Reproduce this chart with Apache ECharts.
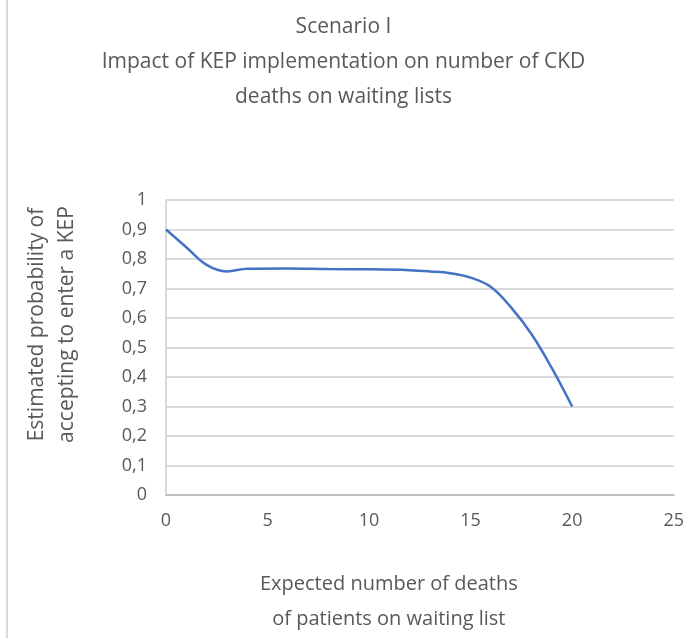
<!DOCTYPE html>
<html>
<head>
<meta charset="utf-8">
<title>Scenario I</title>
<script src="https://cdn.jsdelivr.net/npm/echarts@6/dist/echarts.min.js"></script>
<style>
  html, body { margin: 0; padding: 0; background: #fff; }
  #chart { width: 687px; height: 638px; }
</style>
</head>
<body>
<div id="chart"></div>
<script>
// expected deaths (x) vs estimated probability of accepting to enter a KEP (y)
const deaths = [0, 1, 2, 3, 4, 6, 8, 10, 12, 13, 14, 15, 16, 17, 18, 19, 20]
const probability = [0.9, 0.84, 0.78, 0.758, 0.767, 0.768, 0.766, 0.765, 0.762, 0.758, 0.752, 0.737, 0.705, 0.635, 0.545, 0.43, 0.3]
const xTicks = [0, 25, 5]   // min, max, step
const yTicks = [0, 1, 0.1]

const chart = echarts.init(document.getElementById('chart'))
const grey = '#595959'
const font = 'Open Sans'

const option = {
  animation: false,
  title: {
    text: 'Scenario I\nImpact of KEP implementation on number of CKD\ndeaths on waiting lists',
    left: 'center',
    top: 5,
    textStyle: {
      fontFamily: font,
      fontWeight: 'normal',
      fontSize: 21,
      lineHeight: 35,
      color: grey
    }
  },
  grid: { left: 166, right: 12, top: 200, bottom: 142 },
  xAxis: {
    type: 'value',
    min: xTicks[0],
    max: xTicks[1],
    interval: xTicks[2],
    name: 'Expected number of deaths\nof patients on waiting list',
    nameLocation: 'middle',
    nameGap: 72,
    nameTextStyle: {
      fontFamily: font, fontSize: 20, lineHeight: 35, color: grey,
      padding: [0, 62, 0, 0]
    },
    axisLine: { lineStyle: { color: '#bfbfbf', width: 2 } },
    axisTick: { show: false },
    splitLine: { show: false },
    axisLabel: { fontFamily: font, fontSize: 18, color: grey, margin: 17 }
  },
  yAxis: {
    type: 'value',
    min: yTicks[0],
    max: yTicks[1],
    interval: yTicks[2],
    name: 'Estimated probability of\naccepting to enter a KEP',
    nameLocation: 'middle',
    nameGap: 84,
    nameTextStyle: {
      fontFamily: font, fontSize: 21, lineHeight: 30, color: grey,
      padding: [0, 0, 0, 46]
    },
    axisLine: { show: true, lineStyle: { color: '#d9d9d9', width: 2 } },
    axisTick: { show: false },
    splitLine: { lineStyle: { color: '#d9d9d9', width: 2 } },
    axisLabel: {
      fontFamily: font, fontSize: 18, color: grey, margin: 19,
      formatter: v => String(Math.round(v * 10) / 10).replace('.', ',')
    }
  },
  graphic: [{
    type: 'line',
    shape: { x1: 7, y1: 0, x2: 7, y2: 638 },
    style: { stroke: '#d9d9d9', lineWidth: 2 }
  }],
  series: [{
    type: 'line',
    data: deaths.map((d, i) => [d, probability[i]]),
    smooth: 0.4,
    showSymbol: false,
    lineStyle: { color: '#4472c4', width: 2.5 }
  }]
}

chart.setOption(option)
</script>
</body>
</html>
